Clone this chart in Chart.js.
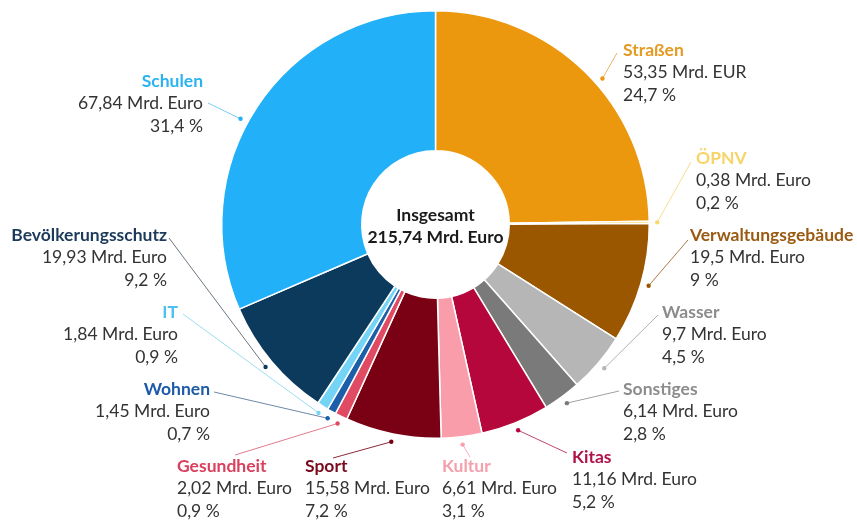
<!DOCTYPE html>
<html lang="de">
<head>
<meta charset="utf-8">
<script src="https://cdn.jsdelivr.net/npm/chart.js@4/dist/chart.umd.min.js"></script>
<style>
  html, body { margin: 0; padding: 0; background: #fff; }
  #wrap { width: 857px; height: 520px; }
</style>
</head>
<body>
<div id="wrap"><canvas id="investChart" width="857" height="520"></canvas></div>
<script>
// Daten (Mrd. Euro), im Uhrzeigersinn ab 12 Uhr
const categories = ['Straßen', 'ÖPNV', 'Verwaltungsgebäude', 'Wasser', 'Sonstiges', 'Kitas',
    'Kultur', 'Sport', 'Gesundheit', 'Wohnen', 'IT', 'Bevölkerungsschutz', 'Schulen'];
const values = [53.35, 0.38, 19.5, 9.7, 6.14, 11.16, 6.61, 15.58, 2.02, 1.45, 1.84, 19.93, 67.84];
const shares = [24.7, 0.2, 9, 4.5, 2.8, 5.2, 3.1, 7.2, 0.9, 0.7, 0.9, 9.2, 31.4];
const units = ['Mrd. EUR', 'Mrd. Euro', 'Mrd. Euro', 'Mrd. Euro', 'Mrd. Euro', 'Mrd. Euro',
    'Mrd. Euro', 'Mrd. Euro', 'Mrd. Euro', 'Mrd. Euro', 'Mrd. Euro', 'Mrd. Euro', 'Mrd. Euro'];
const total = 215.74;

const sliceColors = ['#ec980e', '#f9d86e', '#9b5700', '#b6b6b6', '#7a7a7a', '#b5073c',
    '#f99dab', '#7a0014', '#e04a63', '#1d5ea8', '#74d4f6', '#0b3a5c', '#22b0f8'];
const nameColors = ['#e59a22', '#f6d46a', '#9a5a12', '#8c8c8c', '#8c8c8c', '#b0124a',
    '#f3a0ad', '#7a0a1e', '#d9405e', '#1d5aa8', '#4cc0f0', '#1c3a5a', '#2bb3f0'];
const lineColors = ['#e9b46a', '#f6de8e', '#a87a45', '#b0b0b0', '#a0a0a0', '#c0456c',
    '#f4b3bd', '#8a2a3a', '#e47a8c', '#6d88a8', '#9adcf6', '#6a7680', '#7ccbf2'];

// Beschriftungs-Layout: Textanker (x, y der ersten Zeile), Ausrichtung, Linienende,
// Verschiebung des Punktes entlang des Bogens (Anteil der Segmentbreite)
const labelLayout = [
    { x: 623, y: 50,  align: 'left',  lx: 617, ly: 53,  shift: 0.048 },
    { x: 696, y: 158, align: 'left',  lx: 691, ly: 162, shift: 0 },
    { x: 690, y: 235, align: 'left',  lx: 688, ly: 240, shift: 0 },
    { x: 662, y: 312, align: 'left',  lx: 658, ly: 315, shift: 0 },
    { x: 623, y: 389, align: 'left',  lx: 619, ly: 391, shift: 0 },
    { x: 572, y: 457, align: 'left',  lx: 567, ly: 453, shift: 0 },
    { x: 442, y: 466, align: 'left',  lx: 470, ly: 457, shift: 0 },
    { x: 305, y: 466, align: 'left',  lx: 333, ly: 458, shift: 0 },
    { x: 177, y: 466, align: 'left',  lx: 235, ly: 455, shift: 0 },
    { x: 210, y: 389, align: 'right', lx: 214, ly: 392, shift: 0 },
    { x: 178, y: 312, align: 'right', lx: 183, ly: 314, shift: 0 },
    { x: 167, y: 235, align: 'right', lx: 169, ly: 238, shift: 0 },
    { x: 203, y: 81,  align: 'right', lx: 208, ly: 103, shift: -0.043 }
];

const fmt = (v) => v.toLocaleString('de-DE', { maximumFractionDigits: 2 });

const labelPlugin = {
    id: 'labelPlugin',
    afterDraw(chart) {
        const ctx = chart.ctx;
        const arcs = chart.getDatasetMeta(0).data;
        ctx.save();
        ctx.textBaseline = 'middle';

        // Mitte
        ctx.fillStyle = '#1a1a1a';
        ctx.textAlign = 'center';
        ctx.font = 'bold 17.5px Lato';
        ctx.fillText('Insgesamt', arcs[0].x, arcs[0].y - 9);
        ctx.fillText(fmt(total) + ' Mrd. Euro', arcs[0].x, arcs[0].y + 13);

        arcs.forEach((arc, i) => {
            const lay = labelLayout[i];
            const span = arc.endAngle - arc.startAngle;
            const mid = (arc.startAngle + arc.endAngle) / 2 + span * lay.shift;
            const r = arc.outerRadius + 8;
            const dx = arc.x + Math.cos(mid) * r;
            const dy = arc.y + Math.sin(mid) * r;

            ctx.strokeStyle = lineColors[i];
            ctx.lineWidth = 1;
            ctx.beginPath();
            ctx.moveTo(dx, dy);
            ctx.lineTo(lay.lx, lay.ly);
            ctx.stroke();

            ctx.fillStyle = sliceColors[i];
            ctx.beginPath();
            ctx.arc(dx, dy, 2.2, 0, Math.PI * 2);
            ctx.fill();

            ctx.textAlign = lay.align;
            ctx.font = 'bold 17.5px Lato';
            ctx.fillStyle = nameColors[i];
            ctx.fillText(categories[i], lay.x, lay.y);
            ctx.font = '17.5px Lato';
            ctx.fillStyle = '#333333';
            ctx.fillText(fmt(values[i]) + ' ' + units[i], lay.x, lay.y + 22.5);
            ctx.fillText(fmt(shares[i]) + ' %', lay.x, lay.y + 45);
        });
        ctx.restore();
    }
};

new Chart(document.getElementById('investChart'), {
    type: 'doughnut',
    data: {
        labels: categories,
        datasets: [{
            data: values,
            backgroundColor: sliceColors,
            borderColor: '#ffffff',
            borderWidth: 1.5,
            hoverOffset: 0
        }]
    },
    options: {
        responsive: false,
        animation: false,
        cutout: '34.5%',
        layout: { padding: { left: 221, right: 207, top: 10, bottom: 81 } },
        plugins: {
            legend: { display: false },
            tooltip: { enabled: false }
        }
    },
    plugins: [labelPlugin]
});
</script>
</body>
</html>
